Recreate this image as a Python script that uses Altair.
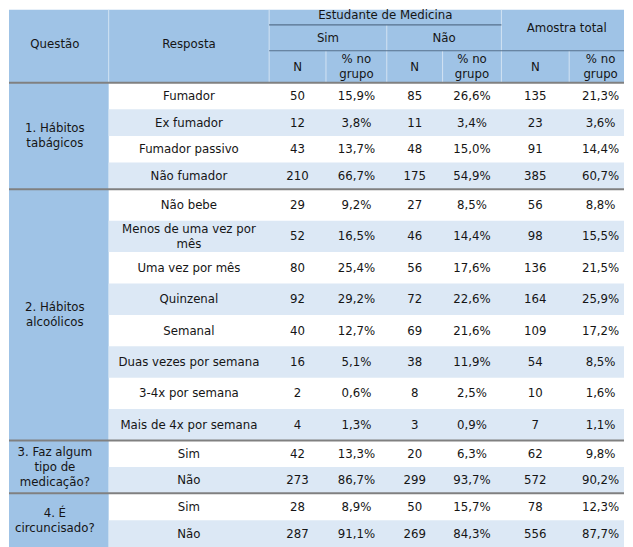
import altair as alt
import pandas as pd

# ---------------- data ----------------
questions = ["1. Hábitos\ntabágicos", "2. Hábitos\nalcoólicos",
             "3. Faz algum\ntipo de\nmedicação?", "4. É\ncircuncisado?"]
section_sizes = [4, 8, 2, 2]
responses = ["Fumador", "Ex fumador", "Fumador passivo", "Não fumador",
             "Não bebe", "Menos de uma vez por\nmês", "Uma vez por mês", "Quinzenal",
             "Semanal", "Duas vezes por semana", "3-4x por semana", "Mais de 4x por semana",
             "Sim", "Não", "Sim", "Não"]
n_sim = [50, 12, 43, 210, 29, 52, 80, 92, 40, 16, 2, 4, 42, 273, 28, 287]
pct_sim = [15.9, 3.8, 13.7, 66.7, 9.2, 16.5, 25.4, 29.2, 12.7, 5.1, 0.6, 1.3, 13.3, 86.7, 8.9, 91.1]
n_nao = [85, 11, 48, 175, 27, 46, 56, 72, 69, 38, 8, 3, 20, 299, 50, 269]
pct_nao = [26.6, 3.4, 15.0, 54.9, 8.5, 14.4, 17.6, 22.6, 21.6, 11.9, 2.5, 0.9, 6.3, 93.7, 15.7, 84.3]
n_tot = [135, 23, 91, 385, 56, 98, 136, 164, 109, 54, 10, 7, 62, 572, 78, 556]
pct_tot = [21.3, 3.6, 14.4, 60.7, 8.8, 15.5, 21.5, 25.9, 17.2, 8.5, 1.6, 1.1, 9.8, 90.2, 12.3, 87.7]

head_first = ["Questão", "Resposta"]
head_group = ["Estudante de Medicina", "Amostra total"]
head_sub = ["Sim", "Não"]
head_cols = ["N", "% no\ngrupo"]

# ---------------- layout (table geometry, in reference pixel units) ----------------
W, H = 617, 539
col_edges = [0, 108, 269, 326, 387, 443, 502, 570, 633]
head_edges = [3, 23, 49, 81]
section_row_h = [26.75, 31.5, 26.5, 27]
FONT = "DejaVu Sans"
FS = 11.8
LH = 15
TXT = "#151515"
HEAD_BG = "#9fc3e6"
STRIPE = "#dce8f5"

row_edges = [head_edges[-1]]
section_edges = [head_edges[-1]]
for size, h in zip(section_sizes, section_row_h):
    for _ in range(size):
        row_edges.append(row_edges[-1] + h)
    section_edges.append(row_edges[-1])

def pct(v):
    return f"{v:.1f}".replace(".", ",") + "%"

def mid(a, b):
    return (a + b) / 2

# ---------------- backgrounds ----------------
rects = [dict(x=0, x2=633, y=head_edges[0], y2=head_edges[-1], c=HEAD_BG),
         dict(x=0, x2=col_edges[1], y=head_edges[-1], y2=row_edges[-1], c=HEAD_BG)]
for i in range(len(responses)):
    if i % 2 == 1:
        rects.append(dict(x=col_edges[1], x2=col_edges[-1], y=row_edges[i], y2=row_edges[i + 1], c=STRIPE))
rect_df = pd.DataFrame(rects)

# ---------------- lines ----------------
LIGHT = "#d3e3f3"
DARK = "#56718c"
GRAY = "#808080"
lines = []
for xe in [col_edges[1], col_edges[2], col_edges[6]]:
    lines.append(dict(x=xe, x2=xe, y=head_edges[0], y2=head_edges[3], c=LIGHT, w=1))
lines.append(dict(x=col_edges[4], x2=col_edges[4], y=head_edges[1], y2=head_edges[3], c=LIGHT, w=1))
for k in [3, 5, 7]:
    lines.append(dict(x=col_edges[k], x2=col_edges[k], y=head_edges[2], y2=head_edges[3], c=LIGHT, w=1))
lines.append(dict(x=col_edges[2], x2=col_edges[6], y=head_edges[1], y2=head_edges[1], c=DARK, w=1.2))
lines.append(dict(x=col_edges[2], x2=col_edges[8], y=head_edges[2], y2=head_edges[2], c=DARK, w=1.2))
for ye in section_edges[:-1]:
    lines.append(dict(x=0, x2=633, y=ye, y2=ye, c=GRAY, w=2))
line_df = pd.DataFrame(lines)

# ---------------- texts ----------------
texts = []
def add(t, x, y):
    n = t.count("\n")
    texts.append(dict(t=t, x=x, y=y - n * LH / 2))

add(head_first[0], mid(col_edges[0], col_edges[1]), mid(head_edges[0], head_edges[3]))
add(head_first[1], mid(col_edges[1], col_edges[2]), mid(head_edges[0], head_edges[3]))
add(head_group[0], mid(col_edges[2], col_edges[6]), mid(head_edges[0], head_edges[1]))
add(head_group[1], mid(col_edges[6], col_edges[8]), mid(head_edges[0], head_edges[2]))
add(head_sub[0], mid(col_edges[2], col_edges[4]), mid(head_edges[1], head_edges[2]))
add(head_sub[1], mid(col_edges[4], col_edges[6]), mid(head_edges[1], head_edges[2]))
for k in range(2, 8):
    add(head_cols[(k - 2) % 2], mid(col_edges[k], col_edges[k + 1]), mid(head_edges[2], head_edges[3]))
for s, q in enumerate(questions):
    add(q, mid(col_edges[0], col_edges[1]), mid(section_edges[s], section_edges[s + 1]))
for i in range(len(responses)):
    vals = [responses[i], str(n_sim[i]), pct(pct_sim[i]), str(n_nao[i]), pct(pct_nao[i]),
            str(n_tot[i]), pct(pct_tot[i])]
    yc = mid(row_edges[i], row_edges[i + 1])
    for k, v in enumerate(vals):
        add(v, mid(col_edges[k + 1], col_edges[k + 2]), yc)
text_df = pd.DataFrame(texts)

# ---------------- chart ----------------
# page shows reference pixels 8..625 (x) and 8..547 (y) one-to-one
xs = alt.Scale(domain=[8, 625], nice=False, zero=False, clamp=True)
ys = alt.Scale(domain=[547, 8], nice=False, zero=False, clamp=True)

bg = alt.Chart(rect_df).mark_rect(strokeWidth=0).encode(
    x=alt.X("x:Q", scale=xs, axis=None), x2="x2:Q",
    y=alt.Y("y:Q", scale=ys, axis=None), y2="y2:Q",
    color=alt.Color("c:N", scale=None))

rules = alt.Chart(line_df).mark_rule().encode(
    x=alt.X("x:Q", scale=xs, axis=None), x2="x2:Q",
    y=alt.Y("y:Q", scale=ys, axis=None), y2="y2:Q",
    color=alt.Color("c:N", scale=None),
    strokeWidth=alt.StrokeWidth("w:Q", scale=None))

txt = alt.Chart(text_df).mark_text(
    font=FONT, fontSize=FS, color=TXT, align="center", baseline="middle",
    lineBreak="\n", lineHeight=LH).encode(
    x=alt.X("x:Q", scale=xs, axis=None),
    y=alt.Y("y:Q", scale=ys, axis=None),
    text="t:N")

chart = alt.layer(bg, rules, txt).properties(
    width=W, height=H, padding=0, background="white"
).configure_view(strokeWidth=0)

chart.save("out.html", embed_options={"renderer": "svg", "actions": False})
